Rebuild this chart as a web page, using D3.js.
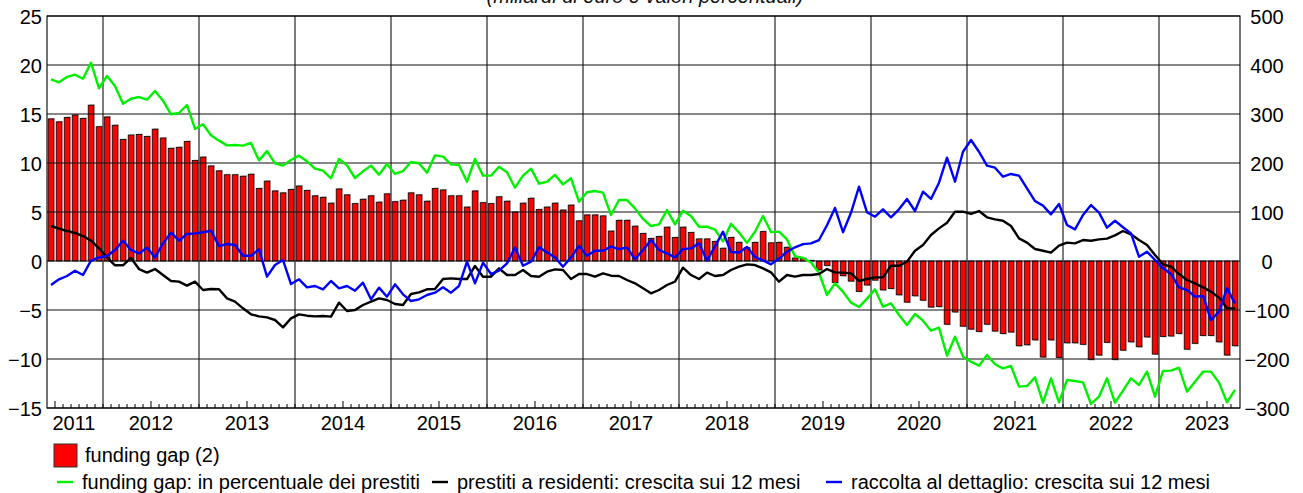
<!DOCTYPE html>
<html>
<head>
<meta charset="utf-8">
<script src="https://cdn.jsdelivr.net/npm/d3@7"></script>
<style>
    html, body { margin: 0; padding: 0; background: #fff; }
    svg { display: block; font-family: "Liberation Sans", Arial, sans-serif; }
</style>
</head>
<body>
<div id="main"></div>
<script>
// monthly observations, June 2011 - October 2023
var months = d3.timeMonth.range(new Date(2011, 5, 1), new Date(2023, 10, 1));
var yearLabels = ["2011", "2012", "2013", "2014", "2015", "2016", "2017", "2018", "2019", "2020", "2021", "2022", "2023"];
var leftTicks = [-15, -10, -5, 0, 5, 10, 15, 20, 25];
var rightTicks = [-300, -200, -100, 0, 100, 200, 300, 400, 500];

var titleText = "(miliardi di euro e valori percentuali)";
var legendLabels = ["funding gap (2)", "funding gap: in percentuale dei prestiti",
    "prestiti a residenti: crescita sui 12 mesi", "raccolta al dettaglio: crescita sui 12 mesi"];

// funding gap, billions of euro (right axis)
var fundingGap = [
    290, 284, 293, 298, 291, 318, 274, 294, 277, 248,
    257, 258, 254, 269, 251, 230, 232, 244, 205, 212,
    194, 184, 176, 176, 173, 177, 148, 163, 143, 139,
    146, 153, 144, 133, 130, 118, 147, 135, 117, 126,
    133, 120, 137, 121, 124, 139, 135, 122, 148, 145,
    133, 133, 110, 143, 119, 117, 131, 122, 100, 118,
    128, 105, 110, 118, 104, 114, 82, 94, 94, 92,
    61, 83, 83, 71, 56, 46, 50, 69, 48, 69,
    58, 45, 45, 40, 26, 48, 38, 27, 38, 60,
    37, 38, 28, 6, 5, 1, -18, -9, -44, -30,
    -41, -62, -49, -39, -59, -56, -69, -84, -71, -80,
    -94, -93, -129, -104, -133, -139, -144, -129, -143, -148,
    -145, -173, -171, -161, -196, -161, -197, -167, -167, -170,
    -201, -192, -166, -201, -182, -165, -175, -155, -190, -154,
    -153, -148, -180, -168, -152, -152, -165, -192, -173
];

// funding gap as a share of loans, per cent (left axis)
var fundingGapPct = [
    18.54, 18.23, 18.78, 19.01, 18.6, 20.24, 17.62, 18.88, 17.86, 16.05,
    16.56, 16.73, 16.46, 17.35, 16.36, 14.97, 15.1, 15.92, 13.47, 13.95,
    12.82, 12.28, 11.8, 11.84, 11.77, 12.04, 10.27, 11.22, 9.97, 9.73,
    10.31, 10.75, 10.17, 9.42, 9.22, 8.44, 10.41, 9.76, 8.47, 9.15,
    9.73, 8.81, 9.9, 8.88, 9.18, 10.1, 9.97, 9.01, 10.78, 10.65,
    9.86, 9.8, 8.09, 10.41, 8.71, 8.71, 9.62, 9.05, 7.48, 8.71,
    9.42, 7.89, 8.09, 8.78, 7.82, 8.44, 6.05, 7.01, 7.14, 6.97,
    4.69, 6.22, 6.22, 5.37, 4.29, 3.57, 3.74, 5.2, 3.74, 5.13,
    4.59, 3.5, 3.5, 3.2, 2.0, 3.8, 2.9, 1.85, 2.99, 4.6,
    2.95, 3.0, 2.2, 0.48, 0.32, -0.15, -1.2, -3.47, -2.28, -3.13,
    -4.25, -4.7, -3.84, -2.89, -4.66, -4.32, -5.51, -6.53, -5.41, -6.09,
    -7.11, -6.8, -9.66, -7.72, -9.76, -10.27, -10.68, -9.59, -10.54, -10.95,
    -10.71, -12.82, -12.76, -11.87, -14.46, -11.97, -14.42, -12.14, -12.24, -12.38,
    -14.59, -13.85, -11.97, -14.46, -13.23, -11.97, -12.65, -11.29, -13.85, -11.22,
    -11.19, -10.88, -13.33, -12.31, -11.29, -11.29, -12.41, -14.42, -13.16
];

// loans to residents, 12-month growth (left axis)
var loansGrowth = [
    3.57, 3.3, 3.06, 2.86, 2.55, 2.07, 1.29, 0.37, -0.44, -0.44,
    0.31, -0.82, -1.19, -0.82, -1.43, -2.04, -2.11, -2.52, -2.11, -2.96,
    -2.86, -2.89, -3.81, -4.15, -4.83, -5.44, -5.65, -5.75, -6.02, -6.77,
    -5.85, -5.44, -5.58, -5.65, -5.61, -5.68, -4.25, -5.1, -5.0, -4.49,
    -4.15, -3.81, -3.98, -4.39, -4.49, -3.37, -3.2, -2.89, -2.86, -1.84,
    -1.77, -1.84, -1.84, -0.51, -1.6, -1.6, -0.75, -1.43, -1.43, -0.92,
    -1.53, -1.6, -1.09, -0.85, -0.92, -1.84, -1.33, -1.33, -1.6, -1.26,
    -1.5, -1.53, -1.94, -2.28, -2.79, -3.3, -2.96, -2.45, -2.11, -0.68,
    -1.43, -1.84, -1.19, -1.53, -1.43, -0.92, -0.58, -0.34, -0.41, -0.75,
    -1.16, -2.11, -1.43, -1.6, -1.43, -1.43, -1.33, -0.82, -1.16, -1.19,
    -1.26, -2.04, -1.84, -1.67, -1.67, -0.48, -0.48, -0.07, 1.05, 1.63,
    2.65, 3.33, 3.91, 5.03, 5.03, 4.8, 5.1, 4.46, 4.25, 4.11,
    3.57, 2.31, 1.87, 1.22, 1.05, 0.85, 1.56, 1.87, 1.8, 2.14,
    2.07, 2.21, 2.28, 2.62, 3.06, 2.72, 2.14, 1.63, 0.61, -0.34,
    -0.58, -1.33, -1.94, -2.28, -2.69, -3.13, -3.74, -4.83, -4.83
];

// retail funding, 12-month growth (left axis)
var depositsGrowth = [
    -2.45, -1.87, -1.53, -0.99, -1.43, 0.03, 0.37, 0.51, 1.12, 2.07,
    1.12, 0.78, 1.36, 0.37, 1.8, 2.89, 2.07, 2.76, 2.82, 2.93,
    3.09, 1.53, 1.73, 1.63, 0.54, 0.54, 1.19, -1.6, -0.41, 0.1,
    -2.35, -1.87, -2.69, -2.55, -2.89, -2.04, -2.79, -2.55, -3.03, -2.21,
    -3.91, -2.72, -3.64, -2.38, -3.4, -4.08, -3.91, -3.47, -3.23, -2.69,
    -3.23, -2.55, -0.07, -2.28, -0.17, -1.33, -0.99, -0.24, 1.36, -0.48,
    -0.07, 1.39, 0.88, 0.37, -0.58, 0.37, 1.53, 0.54, 1.05, 1.05,
    1.46, 1.22, 1.36, 0.2, 1.12, 2.14, 1.12, 0.78, 0.37, 1.22,
    1.29, 1.8, 0.05, 1.5, 2.99, 0.92, 0.87, 1.43, 0.4, 0.07,
    -0.34, 0.25, 0.95, 1.4, 1.72, 1.8, 2.14, 3.65, 5.42, 2.94,
    4.92, 7.58, 4.97, 4.52, 5.27, 4.46, 5.27, 6.33, 5.1, 7.07,
    6.33, 7.99, 10.54, 8.09, 11.15, 12.35, 11.15, 9.73, 9.52, 8.6,
    8.88, 8.71, 7.41, 6.12, 5.65, 4.76, 5.82, 3.67, 3.23, 4.69,
    5.71, 4.93, 3.4, 4.11, 3.44, 2.82, 0.44, 0.95, 0.1, -0.75,
    -1.33, -2.69, -2.96, -3.64, -3.57, -6.02, -5.17, -2.79, -4.32
];

const chart = (function () {
    function chart() {
        if (!(this instanceof chart)) {
            return new chart();
        }
        this.initProperty();
        this.init();
    }

    chart.prototype.initProperty = function () {
        this.width = 1303;
        this.height = 493;
        this.plot = {left: 47, right: 1240, top: 16, bottom: 408};
        this.fontSize = 20;
        this.svg = d3.select('#main').append('svg')
            .attr('width', this.width).attr('height', this.height);

        this.x = d3.scaleBand().domain(months)
            .range([this.plot.left, this.plot.right - 1])
            .paddingInner(0.3).paddingOuter(0.15);
        this.yLeft = d3.scaleLinear().domain([-15, 25]).range([this.plot.bottom, this.plot.top]);
        this.yRight = d3.scaleLinear().domain([-300, 500]).range([this.plot.bottom, this.plot.top]);
    };

    chart.prototype.init = function () {
        this.drawTitle();
        this.drawBars();
        this.drawGrid();
        this.drawLines();
        this.drawAxes();
        this.drawLegend();
    };

    // left edge of a month slot
    chart.prototype.edge = function (m) {
        return this.x(m) - this.x.step() * this.x.paddingInner() / 2;
    };

    chart.prototype.drawTitle = function () {
        // the reference crops this line at the top edge, only its lower part shows
        this.svg.append('text')
            .attr('x', 645).attr('y', 2.5)
            .attr('text-anchor', 'middle')
            .attr('font-style', 'italic')
            .attr('font-size', 20)
            .attr('fill', '#111')
            .text(titleText);
    };

    chart.prototype.drawBars = function () {
        const that = this;
        const bw = this.x.bandwidth();
        const zero = this.yRight(0);
        const g = this.svg.append('g');

        // light shadow behind each bar
        g.selectAll('rect.shadow').data(fundingGap).enter().append('rect')
            .attr('class', 'shadow')
            .attr('fill', '#b8b8b8')
            .attr('x', function (d, i) { return that.x(months[i]) + 1.2; })
            .attr('y', function (d) { return d >= 0 ? that.yRight(d) - 1 : zero; })
            .attr('width', bw)
            .attr('height', function (d) { return Math.abs(that.yRight(d) - zero) + 1; });

        g.selectAll('rect.bar').data(fundingGap).enter().append('rect')
            .attr('class', 'bar')
            .attr('fill', '#ff0000')
            .attr('stroke', '#000')
            .attr('stroke-width', 0.8)
            .attr('x', function (d, i) { return that.x(months[i]); })
            .attr('y', function (d) { return Math.min(that.yRight(d), zero); })
            .attr('width', bw)
            .attr('height', function (d) { return Math.abs(that.yRight(d) - zero); });
    };

    chart.prototype.drawGrid = function () {
        const that = this;
        const p = this.plot;
        const g = this.svg.append('g');

        g.selectAll('line.h').data(leftTicks).enter().append('line')
            .attr('x1', p.left).attr('x2', p.right)
            .attr('y1', function (d) { return that.yLeft(d); })
            .attr('y2', function (d) { return that.yLeft(d); })
            .attr('stroke', '#111').attr('stroke-width', 1.1);

        const januaries = months.filter(function (m) { return m.getMonth() === 0; });
        g.selectAll('line.v').data(januaries).enter().append('line')
            .attr('x1', function (d) { return that.edge(d); })
            .attr('x2', function (d) { return that.edge(d); })
            .attr('y1', p.top).attr('y2', p.bottom)
            .attr('stroke', '#111').attr('stroke-width', 1.1);
    };

    chart.prototype.drawLines = function () {
        const that = this;
        const half = this.x.bandwidth() / 2;
        const line = d3.line()
            .x(function (d, i) { return that.x(months[i]) + half; })
            .y(function (d) { return that.yLeft(d); });

        [[fundingGapPct, '#00f000'], [loansGrowth, '#000000'], [depositsGrowth, '#0000ff']]
            .forEach(function (s) {
                that.svg.append('path')
                    .datum(s[0])
                    .attr('d', line)
                    .attr('fill', 'none')
                    .attr('stroke', s[1])
                    .attr('stroke-width', 2.4)
                    .attr('stroke-linejoin', 'round');
            });
    };

    chart.prototype.drawAxes = function () {
        const that = this;
        const p = this.plot;

        // frame
        this.svg.append('rect')
            .attr('x', p.left).attr('y', p.top)
            .attr('width', p.right - p.left).attr('height', p.bottom - p.top)
            .attr('fill', 'none').attr('stroke', '#000').attr('stroke-width', 1.1);

        const left = this.svg.append('g')
            .attr('transform', 'translate(' + p.left + ',0)')
            .call(d3.axisLeft(this.yLeft).tickValues(leftTicks).tickSize(0).tickPadding(5));
        const right = this.svg.append('g')
            .attr('transform', 'translate(' + p.right + ',0)')
            .call(d3.axisRight(this.yRight).tickValues(rightTicks).tickSize(0));
        right.selectAll('text').attr('x', 27).attr('text-anchor', 'middle');

        [left, right].forEach(function (a) {
            a.select('.domain').remove();
            a.selectAll('text')
                .attr('font-size', that.fontSize)
                .attr('font-family', '"Liberation Sans", Arial, sans-serif')
                .attr('fill', '#000')
                .attr('dy', '0.38em');
        });

        // monthly ticks along the bottom
        const g = this.svg.append('g');
        g.selectAll('line').data(months.slice(1)).enter().append('line')
            .attr('x1', function (d) { return that.edge(d); })
            .attr('x2', function (d) { return that.edge(d); })
            .attr('y1', p.bottom)
            .attr('y2', function (d) { return p.bottom - (d.getMonth() === 6 ? 7 : 4); })
            .attr('stroke', '#000').attr('stroke-width', 1);

        g.selectAll('text').data(yearLabels).enter().append('text')
            .attr('x', function (d) {
                const mid = that.edge(new Date(+d, 6, 1));
                return isNaN(mid) ? p.left + 27 : Math.max(mid, p.left + 27);
            })
            .attr('y', 430)
            .attr('text-anchor', 'middle')
            .attr('font-size', this.fontSize)
            .text(function (d) { return d; });
    };

    chart.prototype.drawLegend = function () {
        const fs = this.fontSize;
        const lg = this.svg.append('g').attr('font-size', fs);

        lg.append('rect')
            .attr('x', 54).attr('y', 444).attr('width', 23).attr('height', 23)
            .attr('fill', '#ff0000').attr('stroke', '#333').attr('stroke-width', 1);
        lg.append('text').attr('x', 85).attr('y', 462).text(legendLabels[0]);

        const items = [[legendLabels[1], '#00f000', 57], [legendLabels[2], '#000000', 432], [legendLabels[3], '#0000ff', 826]];
        items.forEach(function (it) {
            lg.append('line')
                .attr('x1', it[2]).attr('x2', it[2] + 16)
                .attr('y1', 482).attr('y2', 482)
                .attr('stroke', it[1]).attr('stroke-width', 2.4);
            lg.append('text').attr('x', it[2] + 25).attr('y', 489).text(it[0]);
        });
    };

    return chart;
})();

chart();
</script>
</body>
</html>
